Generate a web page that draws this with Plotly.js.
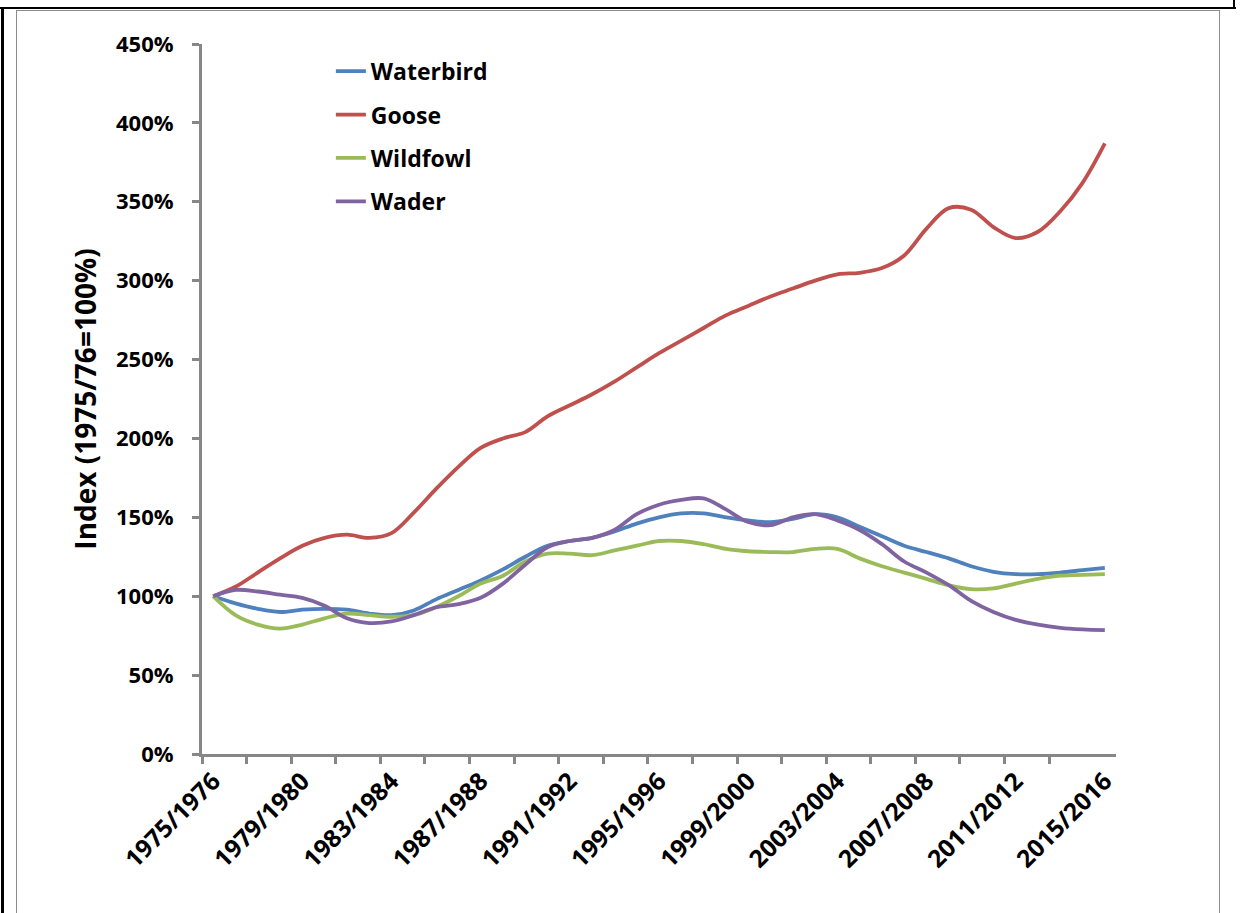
<!DOCTYPE html>
<html>
<head>
<meta charset="utf-8">
<script src="https://cdn.plot.ly/plotly-3.0.1.min.js"></script>
<style>
  html, body { margin: 0; padding: 0; background: #ffffff; overflow: hidden; }
  #wrap { position: relative; width: 1246px; height: 913px; }
  .frame { position: absolute; }
  #chart { position: absolute; left: 0; top: 0; width: 1246px; height: 913px; }
</style>
</head>
<body>
<div id="wrap">
  <div class="frame" style="left:0;top:7px;width:1236px;height:2px;background:#000;"></div>
  <div class="frame" style="left:1px;top:7px;width:3px;height:906px;background:#000;"></div>
  <div class="frame" style="left:1233px;top:0;width:2px;height:9px;background:#000;"></div>
  <div class="frame" style="left:16px;top:10px;width:1204px;height:910px;border:1.5px solid #8c8c8c;box-sizing:border-box;"></div>
  <div id="chart"></div>
</div>
<script>
const seasons = [
  '1975/1976','1976/1977','1977/1978','1978/1979','1979/1980','1980/1981','1981/1982','1982/1983',
  '1983/1984','1984/1985','1985/1986','1986/1987','1987/1988','1988/1989','1989/1990','1990/1991',
  '1991/1992','1992/1993','1993/1994','1994/1995','1995/1996','1996/1997','1997/1998','1998/1999',
  '1999/2000','2000/2001','2001/2002','2002/2003','2003/2004','2004/2005','2005/2006','2006/2007',
  '2007/2008','2008/2009','2009/2010','2010/2011','2011/2012','2012/2013','2013/2014','2014/2015',
  '2015/2016'
];
const labelledSeasons = ['1975/1976','1979/1980','1983/1984','1987/1988','1991/1992','1995/1996',
  '1999/2000','2003/2004','2007/2008','2011/2012','2015/2016'];

const waterbird = [100,95.5,92,90,91.5,92,91.5,89,88,91,98,104,110,117,125,132,135,137,141,146,
  150,152.5,152.5,150,148,147,149,152,150,144,138,132,128,124,119,115.5,114,114,115,116.5,118];
const goose = [100,106,115,124,132,137,139,137,140,153,168,182,194,200,204,214,221,228,236,245,
  254,262,270,278,284,290,295,300,304,305,308,316,333,346,345,334,327,331,344,362,387];
const wildfowl = [100,88,82,79.5,82,86,89,88,87,88,93,100,108,113,122,127,127,126,129,132,
  135,135,133,130,128.5,128,128,130,130,124,119,115,111,107,104.5,105,108,111,113,113.5,114];
const wader = [100,104,103,101,99,94,86,83,84,88,93,95,99,108,120,131,135,137,142,152,
  158,161,162,155,147,145,150,152,148,142,133,122,115,107,97,90,85,82,80,79,78.5];

const seriesNames = ['Waterbird','Goose','Wildfowl','Wader'];
const seriesValues = [waterbird, goose, wildfowl, wader];
const seriesColors = ['#4F81BD','#C0504D','#9BBB59','#8064A2'];

const xIndex = seasons.map((s, i) => i);

const traces = seriesNames.map((name, k) => ({
  type: 'scatter',
  mode: 'lines',
  name: name,
  legendgroup: name,
  x: xIndex,
  y: seriesValues[k],
  text: seasons,
  line: { color: seriesColors[k], width: 3.8, shape: 'spline', smoothing: 1 },
  hovertemplate: '%{text}: %{y}%<extra>' + name + '</extra>'
}));

const fontFam = '"Open Sans", "Noto Sans", sans-serif';
const axisGray = '#878787';

const layout = {
  width: 1246,
  height: 913,
  margin: { l: 202, r: 129.5, t: 44, b: 159 },
  paper_bgcolor: 'rgba(0,0,0,0)',
  plot_bgcolor: 'rgba(0,0,0,0)',
  font: { family: fontFam, color: '#000', size: 22, weight: 'bold' },
  showlegend: true,
  legend: {
    x: 0.141, xanchor: 'left',
    y: 0.992, yanchor: 'top',
    bgcolor: 'rgba(0,0,0,0)',
    borderwidth: 0,
    tracegroupgap: 10.5,
    font: { family: fontFam, size: 23, color: '#000', weight: 'bold' }
  },
  xaxis: {
    range: [-0.5, 40.5],
    showgrid: false,
    zeroline: false,
    showline: true,
    linecolor: axisGray,
    linewidth: 3,
    tickmode: 'array',
    tickvals: labelledSeasons.map(s => seasons.indexOf(s)),
    ticktext: labelledSeasons,
    ticks: '',
    tickangle: -45,
    ticklabelstandoff: 0,
    tickfont: { family: fontFam, size: 24.5, color: '#000', weight: 'bold' },
    minor: {
      tickmode: 'array',
      tickvals: seasons.filter((s, i) => i % 2 === 0 && i < seasons.length - 1).map((s, i) => i * 2 - 0.5),
      ticks: 'outside',
      ticklen: 7,
      tickwidth: 2.5,
      tickcolor: axisGray,
      showgrid: false
    },
    fixedrange: true
  },
  yaxis: {
    range: [0, 450],
    tickmode: 'array',
    tickvals: [0,50,100,150,200,250,300,350,400,450],
    ticktext: ['0%','50%','100%','150%','200%','250%','300%','350%','400%','450%'],
    showgrid: false,
    zeroline: false,
    showline: true,
    linecolor: axisGray,
    linewidth: 3,
    ticks: 'outside',
    ticklen: 7,
    tickwidth: 2.5,
    tickcolor: axisGray,
    ticklabelstandoff: 14,
    tickfont: { family: fontFam, size: 22, color: '#000', weight: 'bold' },
    title: {
      text: 'Index (1975/76=100%)',
      font: { family: fontFam, size: 28, color: '#000', weight: 'bold' },
      standoff: 12
    },
    fixedrange: true
  }
};

Plotly.newPlot('chart', traces, layout, { displayModeBar: false, staticPlot: false });
</script>
</body>
</html>
